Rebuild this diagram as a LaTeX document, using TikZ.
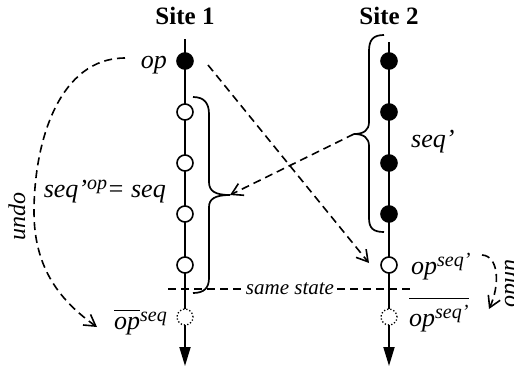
\documentclass[tikz,border=0pt]{standalone}
\usepackage{fontspec}
\setmainfont{Liberation Serif}
\usetikzlibrary{arrows.meta,calc}
\tikzset{ev/.style={circle, draw, line width=1.6pt, inner sep=0pt, minimum size=16pt}}
\tikzset{evdone/.style={ev, fill=black}, evnew/.style={ev, fill=white}, evundo/.style={ev, line width=1.3pt, dotted, fill=white}}
\tikzset{axis/.style={line width=1.9pt, -{Triangle[length=19pt,width=11pt]}}}
\tikzset{brc/.style={line width=1.7pt}}
\tikzset{msg/.style={line width=1.6pt, dash pattern=on 8pt off 5pt, -{Straight Barb[length=11pt,width=13pt]}}}
\tikzset{lbl/.style={inner sep=0pt, font=\fontsize{26}{30}\selectfont\itshape}}
\newcommand*\upx[1]{\raisebox{8pt}{\fontsize{20}{22}\selectfont\itshape #1}}
\newcommand*\ovl[1]{\vbox{\hrule height 1.5pt\kern 5.5pt\hbox{#1}}}
\begin{document}
\begin{tikzpicture}[x=1pt, y=-1pt]
        \useasboundingbox (0,0) rectangle (514,368);
        \node[font=\fontsize{25}{30}\selectfont\bfseries, anchor=base] (site1) at (185,24) {Site 1};
        \node[font=\fontsize{25}{30}\selectfont\bfseries, anchor=base] (site2) at (389,24) {Site 2};
        \coordinate (top1) at (185,39);
        \coordinate (bot1) at (185,366);
        \coordinate (top2) at (389,42);
        \coordinate (bot2) at (389,366);
        \draw[axis] (top1) -- (bot1);
        \draw[axis] (top2) -- (bot2);
        %
        \node[evdone] (s1op) at (185,61) {};
        \node[evnew] (s1a) at (185,112) {};
        \node[evnew] (s1b) at (185,163) {};
        \node[evnew] (s1c) at (185,214) {};
        \node[evnew] (s1d) at (185,265) {};
        \node[evundo] (s1u) at (185,317) {};
        \node[evdone] (s2a) at (389,61) {};
        \node[evdone] (s2b) at (389,112) {};
        \node[evdone] (s2c) at (389,163) {};
        \node[evdone] (s2d) at (389,214) {};
        \node[evnew] (s2op) at (389,265) {};
        \node[evundo] (s2u) at (389,317) {};
        %
        \node[lbl, anchor=base east] (oplbl) at (167,68) {op};
        \node[lbl, anchor=base west] (seqlbl) at (411,147) {seq\char"27};
        \node[lbl, anchor=base east] (eqlbl) at (166,197) {seq\char"27\upx{op}= seq};
        \node[lbl, anchor=base west] (trlbl) at (411,274) {op\upx{seq\char"27}};
        \node[lbl, anchor=base west] (untrlbl) at (409,326) {\ovl{op\upx{seq\char"27}}};
        \node[lbl, anchor=base east] (unlbl) at (167,329) {\ovl{op}\upx{seq}};
        \node[lbl, font=\fontsize{24}{28}\selectfont\itshape, rotate=90, anchor=base] (undo1) at (25,216) {undo};
        \node[lbl, font=\fontsize{24}{28}\selectfont\itshape, rotate=-90, anchor=base] (undo2) at (505,283) {undo};
        %
        \coordinate (b1tip) at (230,195);
        \coordinate (b2tip) at (354,134);
        \draw[brc] (193,97) .. controls (204,97) and (209,103) .. (209,114) -- (209,182)
            .. controls (209,191) and (215,195) .. (b1tip) .. controls (215,195) and (209,199) .. (209,207)
            -- (209,278) .. controls (209,288) and (204,293) .. (193,293);
        \draw[brc] (384,35) .. controls (373,35) and (369,40) .. (369,51) -- (369,122)
            .. controls (369,130) and (364,134) .. (b2tip) .. controls (364,134) and (369,138) .. (369,146)
            -- (369,218) .. controls (369,228) and (373,232) .. (384,232);
        %
        \coordinate (ss1) at (168,289);
        \coordinate (ss2) at (412,289);
        \draw[line width=1.6pt, dash pattern=on 8pt off 5pt] (ss1) -- node[midway, fill=white, inner sep=2pt, font=\fontsize{21}{24}\selectfont\itshape] (same) {same state} (ss2);
        %
        \draw[msg] ($(s1op)+(23,4)$) -- ($(s2op)+(-20,-2)$);
        \draw[msg] (b2tip) -- (b1tip);
        \coordinate (u1s) at (125,58);
        \coordinate (u1e) at (97,327);
        \draw[msg] (u1s) .. controls (60,58) and (34,140) .. (34,212) .. controls (34,270) and (62,302) .. (u1e);
        \coordinate (u2s) at (482,255);
        \coordinate (u2e) at (489,309);
        \draw[msg] (u2s) .. controls (499,256) and (500,285) .. (u2e);
\end{tikzpicture}
\end{document}
